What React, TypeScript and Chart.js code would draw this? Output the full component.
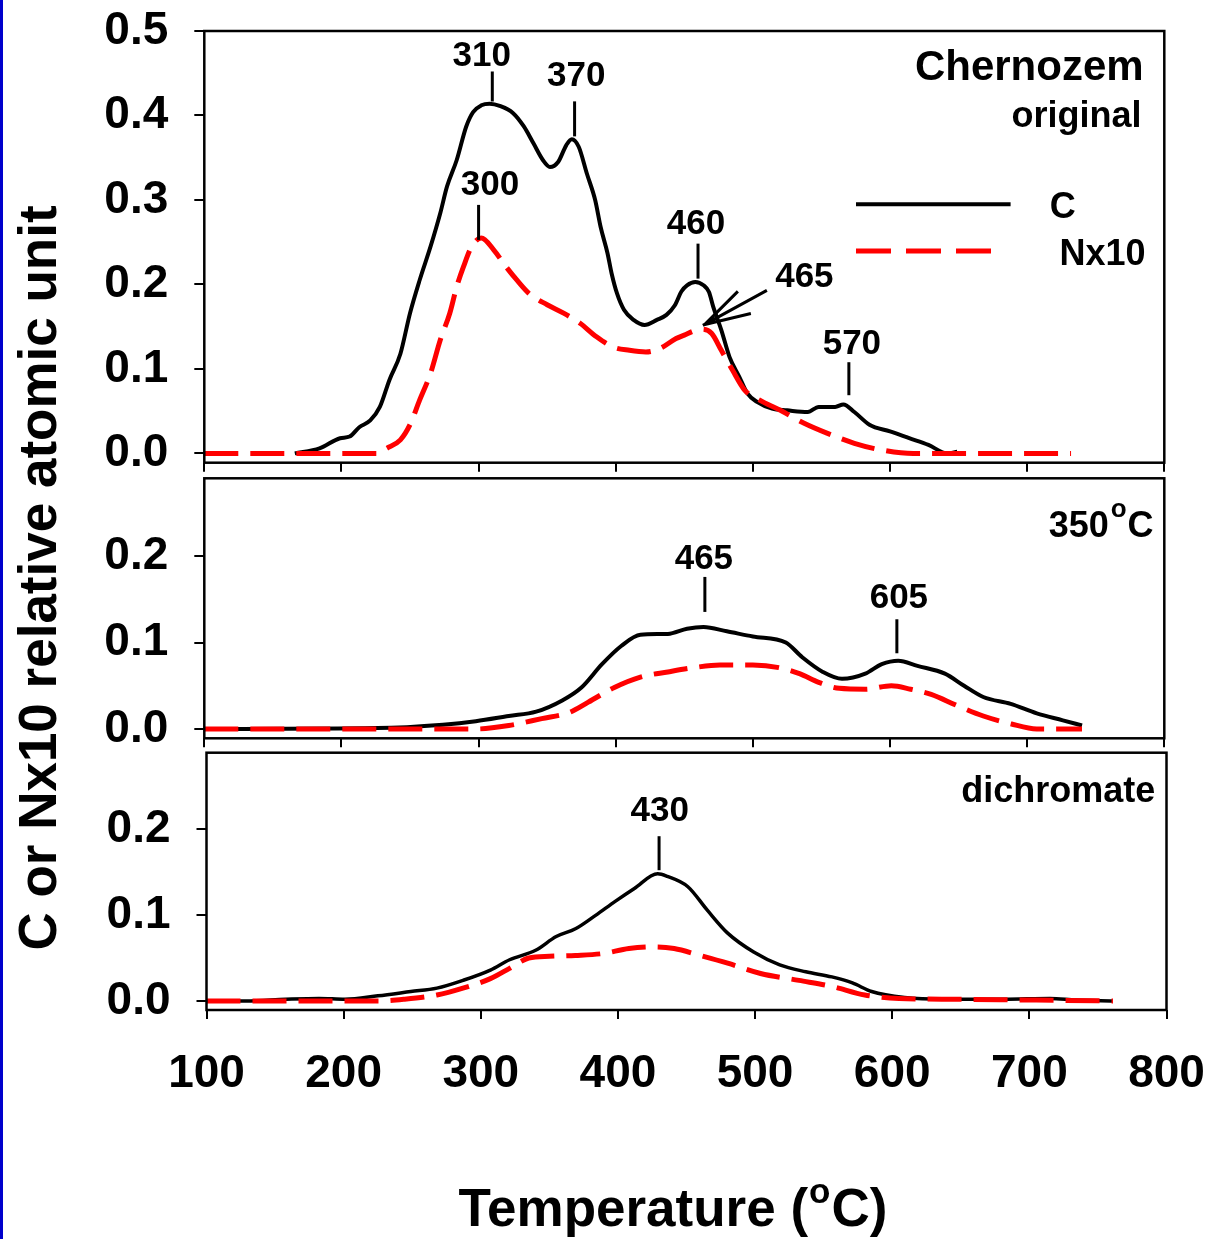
import React, { useEffect, useRef } from "react";
import { Chart, registerables } from "chart.js";

Chart.register(...registerables);

const FONT = '"Liberation Sans", Arial, Helvetica, sans-serif';
const PAGE_W = 1213;
const PAGE_H = 1239;

// ---- axes ----
const tempTicks = [100, 200, 300, 400, 500, 600, 700, 800];
const yTicksOriginal = [0, 0.1, 0.2, 0.3, 0.4, 0.5];
const yTicksTreated = [0, 0.1, 0.2];

// ---- Chernozem, original ----
const origTempC = [166, 184, 199, 206, 213, 221, 228, 235, 243, 250, 257, 265, 272, 277, 284, 291, 296, 302, 308, 316, 325, 333, 340, 347, 352, 358, 364, 368, 373, 379, 385, 389, 394, 397, 401, 406, 413, 421, 430, 437, 443, 448, 452, 458, 464, 468, 471, 477, 483, 490, 496, 503, 514, 525, 540, 548, 560, 566, 574, 585, 600, 614, 628, 642, 649];
const origC = [0.000, 0.006, 0.018, 0.020, 0.031, 0.039, 0.055, 0.087, 0.118, 0.166, 0.205, 0.245, 0.284, 0.316, 0.347, 0.387, 0.404, 0.412, 0.414, 0.411, 0.403, 0.387, 0.367, 0.347, 0.339, 0.345, 0.365, 0.372, 0.363, 0.331, 0.300, 0.268, 0.237, 0.213, 0.189, 0.170, 0.158, 0.152, 0.158, 0.164, 0.175, 0.192, 0.199, 0.203, 0.199, 0.191, 0.174, 0.146, 0.114, 0.091, 0.071, 0.061, 0.053, 0.051, 0.049, 0.055, 0.055, 0.058, 0.049, 0.034, 0.026, 0.018, 0.010, 0.000, 0.002];
const origTempN = [100, 226, 233, 243, 250, 257, 265, 272, 279, 284, 289, 295, 302, 311, 320, 328, 337, 350, 362, 374, 386, 398, 410, 422, 432, 444, 450, 457, 463, 470, 477, 485, 494, 505, 520, 537, 554, 574, 594, 617, 732];
const origN = [0, 0, 0.006, 0.016, 0.034, 0.063, 0.095, 0.134, 0.166, 0.197, 0.221, 0.245, 0.255, 0.241, 0.221, 0.205, 0.189, 0.176, 0.166, 0.154, 0.138, 0.126, 0.122, 0.120, 0.124, 0.136, 0.140, 0.145, 0.147, 0.142, 0.122, 0.099, 0.075, 0.063, 0.051, 0.036, 0.024, 0.012, 0.004, 0, 0];
const origPeaksC = [310, 370, 460, 570];
const origPeaksN = [300];
const origArrowN = 465;

// ---- heated to 350 °C ----
const heatTempC = [100, 226, 274, 298, 322, 342, 361, 375, 390, 404, 418, 438, 452, 464, 481, 500, 524, 536, 551, 565, 582, 594, 606, 620, 640, 654, 668, 688, 707, 726, 740];
const heatC = [0, 0.001, 0.005, 0.009, 0.015, 0.020, 0.033, 0.048, 0.075, 0.096, 0.109, 0.110, 0.116, 0.118, 0.113, 0.107, 0.100, 0.083, 0.066, 0.058, 0.064, 0.075, 0.079, 0.073, 0.064, 0.050, 0.037, 0.029, 0.018, 0.010, 0.004];
const heatTempN = [100, 298, 322, 346, 366, 380, 399, 418, 438, 457, 476, 500, 519, 534, 548, 563, 582, 601, 615, 630, 649, 668, 688, 707, 740];
const heatN = [0, 0, 0.004, 0.012, 0.019, 0.031, 0.048, 0.060, 0.066, 0.071, 0.074, 0.074, 0.071, 0.064, 0.054, 0.047, 0.046, 0.050, 0.046, 0.040, 0.027, 0.015, 0.006, 0, 0];
const heatPeaksC = [465, 605];

// ---- dichromate oxidised ----
const dichTempC = [100, 129, 158, 182, 201, 225, 249, 268, 287, 307, 321, 340, 355, 369, 384, 398, 412, 429, 436, 451, 465, 480, 499, 518, 537, 556, 571, 585, 609, 638, 681, 715, 734, 761];
const dichC = [0, 0, 0.002, 0.003, 0.002, 0.006, 0.011, 0.015, 0.024, 0.036, 0.048, 0.059, 0.075, 0.084, 0.100, 0.116, 0.131, 0.148, 0.145, 0.133, 0.106, 0.079, 0.057, 0.042, 0.034, 0.028, 0.021, 0.011, 0.004, 0.002, 0.002, 0.003, 0.001, 0];
const dichTempN = [100, 225, 244, 268, 287, 307, 321, 335, 350, 369, 388, 408, 427, 441, 460, 480, 504, 532, 556, 580, 605, 648, 705, 761];
const dichN = [0, 0, 0.002, 0.007, 0.015, 0.026, 0.038, 0.050, 0.052, 0.053, 0.055, 0.061, 0.063, 0.061, 0.053, 0.044, 0.032, 0.024, 0.017, 0.007, 0.003, 0.002, 0.001, 0];
const dichPeaksC = [430];

// ---- marker layout (pixel offsets of leader lines and labels) ----
type MarkStyle = { gap: number; len: number; lift: number; dx: number };
const markStyle: Record<string, MarkStyle> = {
  "orig-C-310": { gap: 2.8, len: 30, lift: 5.2, dx: -10.6 },
  "orig-C-370": { gap: 5.8, len: 35, lift: 15.2, dx: 1.7 },
  "orig-C-460": { gap: 4.4, len: 35, lift: 9.8, dx: -2 },
  "orig-C-570": { gap: 13, len: 33, lift: 8.2, dx: 3 },
  "orig-N-300": { gap: 0.5, len: 35, lift: 10, dx: 11.4 },
  "heat-C-465": { gap: 15.3, len: 35, lift: 7.5, dx: -1 },
  "heat-C-605": { gap: 7.7, len: 34, lift: 10.8, dx: 2 },
  "dich-C-430": { gap: 4, len: 34, lift: 15.5, dx: 0.6 },
};

const toPoints = (xs: number[], ys: number[]) => xs.map((x, i) => ({ x, y: ys[i] }));

// linear lookup used only to sit a marker on its curve
function valueAt(xs: number[], ys: number[], t: number): number {
  for (let i = 1; i < xs.length; i++) {
    if (t <= xs[i]) {
      const f = (t - xs[i - 1]) / (xs[i] - xs[i - 1]);
      return ys[i - 1] + f * (ys[i] - ys[i - 1]);
    }
  }
  return ys[ys.length - 1];
}

function text(ctx: CanvasRenderingContext2D, s: string, x: number, y: number, size: number, align: CanvasTextAlign = "left") {
  ctx.font = `bold ${size}px ${FONT}`;
  ctx.textAlign = align;
  ctx.textBaseline = "alphabetic";
  ctx.fillStyle = "#000";
  ctx.fillText(s, x, y);
}

function widthOf(ctx: CanvasRenderingContext2D, s: string, size: number) {
  ctx.font = `bold ${size}px ${FONT}`;
  return ctx.measureText(s).width;
}

function peakMarker(chart: any, key: string, t: number, xs: number[], ys: number[], size: number) {
  const st = markStyle[key];
  const { ctx } = chart;
  const px = chart.scales.x.getPixelForValue(t);
  const py = chart.scales.y.getPixelForValue(valueAt(xs, ys, t));
  const bottom = py - st.gap;
  const top = bottom - st.len;
  ctx.save();
  ctx.strokeStyle = "#000";
  ctx.lineWidth = 3;
  ctx.beginPath();
  ctx.moveTo(px, bottom);
  ctx.lineTo(px, top);
  ctx.stroke();
  text(ctx, String(t), px + st.dx, top - st.lift, size, "center");
  ctx.restore();
}

type Area = { left: number; right: number; top: number; bottom: number };

interface PanelCfg {
  area: Area;
  yMin: number;
  yMax: number;
  yTicks: number[];
  xLabelBand: number; // height kept below the frame for tick labels (0 = none)
  cT: number[];
  cV: number[];
  nT: number[];
  nV: number[];
  cWidth: number;
  decorate: (chart: any) => void;
}

const panelOriginal: PanelCfg = {
  area: { left: 204.3, right: 1164.3, top: 31, bottom: 462.7 },
  yMin: -0.011,
  yMax: 0.5,
  yTicks: yTicksOriginal,
  xLabelBand: 0,
  cT: origTempC, cV: origC, nT: origTempN, nV: origN,
  cWidth: 4,
  decorate: (chart) => {
    const ctx: CanvasRenderingContext2D = chart.ctx;
    origPeaksC.forEach((t) => peakMarker(chart, `orig-C-${t}`, t, origTempC, origC, 35));
    origPeaksN.forEach((t) => peakMarker(chart, `orig-N-${t}`, t, origTempN, origN, 35));

    // open arrow pointing at the N peak
    const tipX = chart.scales.x.getPixelForValue(origArrowN) - 2;
    const tipY = chart.scales.y.getPixelForValue(valueAt(origTempN, origN, origArrowN)) - 5;
    ctx.save();
    ctx.strokeStyle = "#000";
    ctx.lineWidth = 3;
    ctx.beginPath();
    ctx.moveTo(tipX + 64, tipY - 35);
    ctx.lineTo(tipX, tipY);
    ctx.moveTo(tipX + 35, tipY - 34);
    ctx.lineTo(tipX + 2, tipY - 1);
    ctx.moveTo(tipX + 48, tipY - 12);
    ctx.lineTo(tipX + 2, tipY - 1);
    ctx.stroke();
    text(ctx, String(origArrowN), tipX + 101.5, tipY - 38.5, 35, "center");

    // sample name
    text(ctx, "Chernozem", 1143.6, 80, 42, "right");
    text(ctx, "original", 1141.6, 127.3, 36, "right");

    // legend
    ctx.lineWidth = 4;
    ctx.strokeStyle = "#000";
    ctx.beginPath();
    ctx.moveTo(856, 204.3);
    ctx.lineTo(1010.6, 204.3);
    ctx.stroke();
    ctx.strokeStyle = "#ff0000";
    ctx.lineWidth = 5;
    ctx.setLineDash([35, 15]);
    ctx.beginPath();
    ctx.moveTo(856, 251);
    ctx.lineTo(996, 251);
    ctx.stroke();
    ctx.setLineDash([]);
    text(ctx, "C", 1049.7, 218.3, 36, "left");
    text(ctx, "Nx10", 1059.5, 265, 36, "left");
    ctx.restore();
  },
};

const panelHeated: PanelCfg = {
  area: { left: 204.3, right: 1164.3, top: 478.3, bottom: 738.3 },
  yMin: -0.0108,
  yMax: 0.29,
  yTicks: yTicksTreated,
  xLabelBand: 0,
  cT: heatTempC, cV: heatC, nT: heatTempN, nV: heatN,
  cWidth: 4,
  decorate: (chart) => {
    const ctx: CanvasRenderingContext2D = chart.ctx;
    heatPeaksC.forEach((t) => peakMarker(chart, `heat-C-${t}`, t, heatTempC, heatC, 35));
    // "350°C" with a raised o
    const right = 1153.6;
    const wC = widthOf(ctx, "C", 36);
    text(ctx, "C", right, 536.7, 36, "right");
    const wo = widthOf(ctx, "o", 26);
    text(ctx, "o", right - wC - 1, 516.7, 26, "right");
    text(ctx, "350", right - wC - wo - 3, 536.7, 36, "right");
  },
};

const panelDichromate: PanelCfg = {
  area: { left: 206.5, right: 1166.5, top: 752.7, bottom: 1010 },
  yMin: -0.0105,
  yMax: 0.289,
  yTicks: yTicksTreated,
  xLabelBand: 110,
  cT: dichTempC, cV: dichC, nT: dichTempN, nV: dichN,
  cWidth: 3.5,
  decorate: (chart) => {
    const ctx: CanvasRenderingContext2D = chart.ctx;
    dichPeaksC.forEach((t) => peakMarker(chart, `dich-C-${t}`, t, dichTempC, dichC, 35));
    text(ctx, "dichromate", 1155.2, 801.7, 36, "right");

    // x axis title: Temperature (°C) with a raised o
    const p1 = "Temperature (";
    const p2 = "C)";
    const w1 = widthOf(ctx, p1, 53);
    const wo = widthOf(ctx, "o", 35);
    const w2 = widthOf(ctx, p2, 53);
    const x0 = 673 - (w1 + wo + w2 + 2) / 2;
    text(ctx, p1, x0, 1226, 53, "left");
    text(ctx, "o", x0 + w1 + 1, 1203, 35, "left");
    text(ctx, p2, x0 + w1 + wo + 2, 1226, 53, "left");

    // y axis title shared by the three panels
    ctx.save();
    ctx.translate(56, 578);
    ctx.rotate(-Math.PI / 2);
    text(ctx, "C or Nx10 relative atomic unit", 0, 0, 53, "center");
    ctx.restore();
  },
};

function makeChart(canvas: HTMLCanvasElement, p: PanelCfg) {
  const a = p.area;
  const tickFont = { family: FONT, size: 46, weight: "bold" as const };
  return new Chart(canvas, {
    type: "line",
    data: {
      datasets: [
        {
          label: "Nx10",
          data: toPoints(p.nT, p.nV),
          borderColor: "#ff0000",
          borderWidth: 5,
          borderDash: [34, 12],
          pointRadius: 0,
          cubicInterpolationMode: "monotone",
          fill: false,
          order: 0,
        },
        {
          label: "C",
          data: toPoints(p.cT, p.cV),
          borderColor: "#000000",
          borderWidth: p.cWidth,
          borderJoinStyle: "round",
          pointRadius: 0,
          cubicInterpolationMode: "monotone",
          fill: false,
          order: 1,
        },
      ],
    },
    options: {
      responsive: false,
      animation: false,
      devicePixelRatio: 1,
      events: [],
      layout: {
        padding: { left: 0, top: a.top, right: PAGE_W - a.right, bottom: PAGE_H - a.bottom - p.xLabelBand },
      },
      plugins: {
        legend: { display: false },
        tooltip: { enabled: false },
        title: { display: false },
      },
      scales: {
        x: {
          type: "linear",
          min: 100,
          max: 800,
          position: "bottom",
          afterFit: (s: any) => {
            s.height = p.xLabelBand;
            s.paddingLeft = 0;
            s.paddingRight = 0;
            s.paddingTop = 0;
            s.paddingBottom = 0;
          },
          afterBuildTicks: (s: any) => {
            s.ticks = tempTicks.map((v) => ({ value: v }));
          },
          grid: { drawOnChartArea: false, drawTicks: true, tickLength: 9, color: "#000", lineWidth: 2 },
          border: { display: false },
          ticks: {
            display: p.xLabelBand > 0,
            font: tickFont,
            color: "#000",
            padding: 28,
            maxRotation: 0,
            autoSkip: false,
            callback: (v: any) => String(v),
          },
        },
        y: {
          type: "linear",
          min: p.yMin,
          max: p.yMax,
          afterFit: (s: any) => {
            s.width = a.left;
            s.paddingLeft = 0;
            s.paddingRight = 0;
            s.paddingTop = 0;
            s.paddingBottom = 0;
          },
          afterBuildTicks: (s: any) => {
            s.ticks = p.yTicks.map((v) => ({ value: v }));
          },
          grid: { drawOnChartArea: false, drawTicks: true, tickLength: 10, color: "#000", lineWidth: 2 },
          border: { display: false },
          ticks: {
            font: tickFont,
            color: "#000",
            padding: 26,
            callback: (v: any) => Number(v).toFixed(1),
          },
        },
      },
    },
    plugins: [
      {
        id: "panelFrame",
        afterDraw: (chart: any) => {
          const { ctx, chartArea } = chart;
          ctx.save();
          ctx.strokeStyle = "#000";
          ctx.lineWidth = 2.5;
          ctx.strokeRect(chartArea.left, chartArea.top, chartArea.right - chartArea.left, chartArea.bottom - chartArea.top);
          ctx.restore();
          p.decorate(chart);
        },
      },
    ],
  } as any);
}

export default function App() {
  const r1 = useRef<HTMLCanvasElement>(null);
  const r2 = useRef<HTMLCanvasElement>(null);
  const r3 = useRef<HTMLCanvasElement>(null);

  useEffect(() => {
    const charts = [
      makeChart(r1.current!, panelOriginal),
      makeChart(r2.current!, panelHeated),
      makeChart(r3.current!, panelDichromate),
    ];
    return () => charts.forEach((c) => c.destroy());
  }, []);

  const canvasStyle: React.CSSProperties = { position: "absolute", left: 0, top: 0, display: "block" };

  return (
    <div style={{ position: "absolute", left: 0, top: 0, width: PAGE_W, height: PAGE_H, background: "#fff", overflow: "hidden" }}>
      <div style={{ position: "absolute", left: 0, top: 0, width: 3, height: PAGE_H, background: "#0000cc" }} />
      <canvas ref={r1} width={PAGE_W} height={PAGE_H} style={canvasStyle} />
      <canvas ref={r2} width={PAGE_W} height={PAGE_H} style={canvasStyle} />
      <canvas ref={r3} width={PAGE_W} height={PAGE_H} style={canvasStyle} />
    </div>
  );
}
